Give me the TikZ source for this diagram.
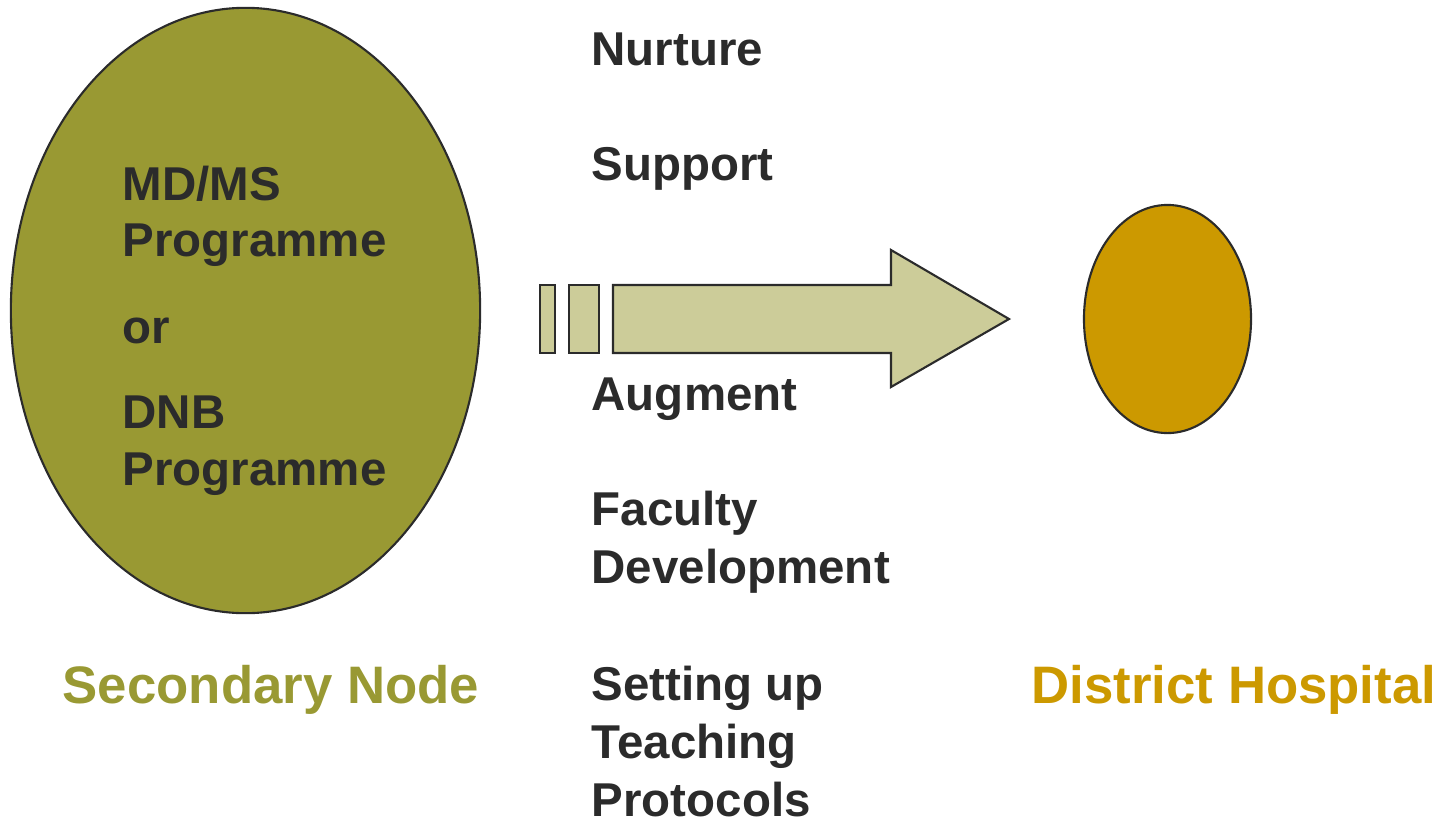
\documentclass[tikz,border=0pt]{standalone}
\usepackage{fontspec}
\setmainfont{Liberation Sans}
\usepackage{xcolor}
\definecolor{olivedcl}{RGB}{153,153,51}
\definecolor{golddcl}{RGB}{204,153,0}
\definecolor{arrowdcl}{RGB}{204,204,153}
\definecolor{textdcl}{RGB}{43,43,43}
\usetikzlibrary{shapes.geometric, positioning}

\begin{document}
\begin{tikzpicture}[x=0.01cm, y=-0.01cm,
    blob/.style={ellipse, draw=textdcl, line width=0.6pt, inner sep=0pt},
    word/.style={anchor=base west, inner sep=0pt, text=textdcl, font=\fontsize{13.5}{16}\selectfont\bfseries},
    caption/.style={anchor=base west, inner sep=0pt, font=\fontsize{15}{18}\selectfont\bfseries},
    barbox/.style={draw=textdcl, fill=arrowdcl, line width=0.6pt}]

    \useasboundingbox (0,0) rectangle (1446,821);

    % Ellipses
    \node[blob, fill=olivedcl, minimum width=4.69cm, minimum height=6.05cm] (secnode) at (245.5,310.5) {};
    \node[blob, fill=golddcl, minimum width=1.67cm, minimum height=2.28cm] (disthosp) at (1167.5,319) {};

    % Text in the big ellipse
    \foreach \nm/\yy/\txt in {mdms/200/{MD/MS}, progone/256/Programme, ortext/343/or, dnb/428/DNB, progtwo/485/Programme}
        \node[word] (\nm) at (122,\yy) {\txt};

    % Middle column
    \foreach \nm/\yy/\txt in {nurture/65/Nurture, support/180/Support, augment/410/Augment, faculty/525/Faculty, develop/583/Development, setting/700/Setting up, teaching/758/Teaching, protocols/816/Protocols}
        \node[word] (\nm) at (591,\yy) {\txt};

    % Block arrow
    \draw[barbox] (540,285) rectangle (555,353);
    \draw[barbox] (569,285) rectangle (599,353);
    \draw[barbox] (613,285) -- (891,285) -- (891,250) -- (1009,319) -- (891,387) -- (891,353) -- (613,353) -- cycle;

    % Captions
    \node[caption, text=olivedcl] (seclabel) at (62,703) {Secondary Node};
    \node[caption, text=golddcl] (distlabel) at (1031,703) {District Hospital};
\end{tikzpicture}
\end{document}
